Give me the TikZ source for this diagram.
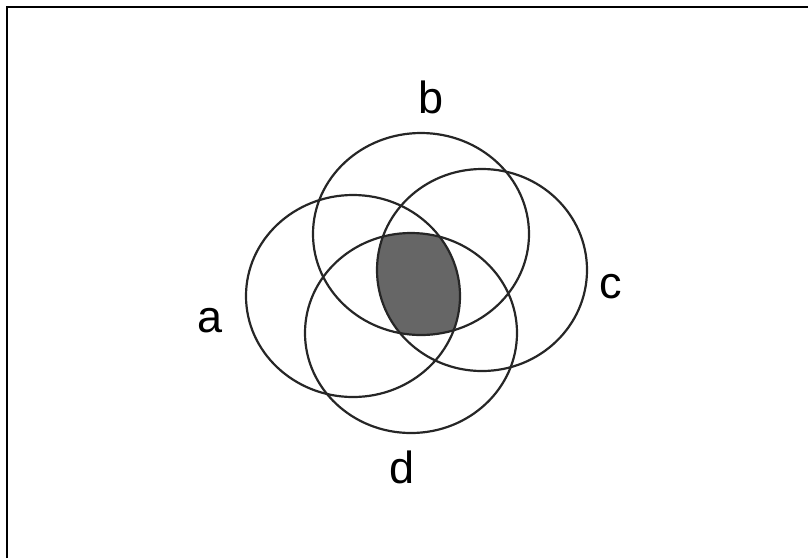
\documentclass[tikz,border=0pt]{standalone}
\usepackage{fontspec}
\setmainfont{Liberation Sans}
\usetikzlibrary{positioning}
\definecolor{core}{RGB}{102,102,102}

\begin{document}
\begin{tikzpicture}[x=1pt, y=-1pt,
        ring/.style={draw, line width=2.2pt, black!85},
        lbl/.style={anchor=base, inner sep=0pt, font=\fontsize{45}{50}\selectfont}
    ]
        \useasboundingbox (0,0) rectangle (808,558);
        \draw[line width=2.6pt] (7,558) -- (7,7) -- (808,7);

        \coordinate (ca) at (353,296);
        \coordinate (cb) at (421,234);
        \coordinate (cc) at (482,270);
        \coordinate (cd) at (411,333);

        % common part of all four
        \begin{scope}
            \clip (ca) ellipse (107 and 101);
            \clip (cb) ellipse (108 and 101);
            \clip (cc) ellipse (105 and 101);
            \fill[core] (cd) ellipse (106 and 100);
        \end{scope}

        \draw[ring] (ca) ellipse (107 and 101);
        \draw[ring] (cb) ellipse (108 and 101);
        \draw[ring] (cc) ellipse (105 and 101);
        \draw[ring] (cd) ellipse (106 and 100);

        \node[lbl] (a) at (210,332) {a};
        \node[lbl] (b) at (431,113) {b};
        \node[lbl] (c) at (611,298) {c};
        \node[lbl] (d) at (402,483) {d};
    \end{tikzpicture}
\end{document}
